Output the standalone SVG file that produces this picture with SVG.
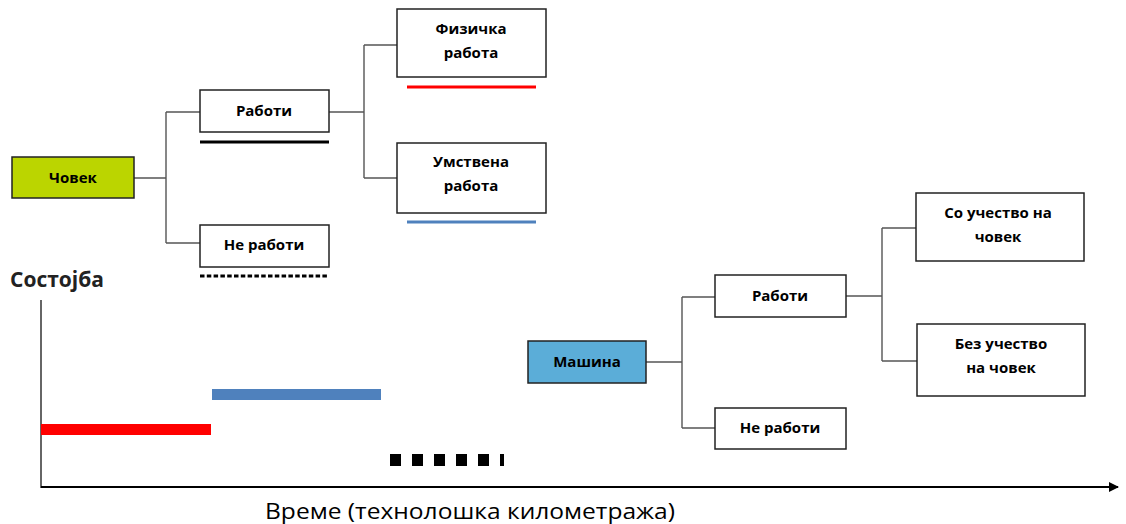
<svg xmlns="http://www.w3.org/2000/svg" width="1126" height="524" viewBox="0 0 1126 524">
  <defs>
    <marker id="arrow" viewBox="0 0 10 10" refX="9" refY="5" markerWidth="10" markerHeight="10" markerUnits="userSpaceOnUse" orient="auto">
      <path d="M0,0 L10,5 L0,10 Z" fill="#000"/>
    </marker>
  </defs>
  <style>
    .box { fill: #fff; stroke: #222; stroke-width: 1.5; }
    .lbl { font-family: "Open Sans", "Liberation Sans", sans-serif; font-weight: 700; font-size: 15px; fill: #000; text-anchor: middle; }
    .conn { fill: none; stroke: #555; stroke-width: 1.4; }
  </style>
  <rect width="1126" height="524" fill="#fff"/>

  <!-- tree connectors -->
  <g id="connectors">
    <path class="conn" d="M134,178 H166 M166,112 V243 M166,112 H200 M166,243 H200"/>
    <path class="conn" d="M329,112 H364 M364,45 V178 M364,45 H397 M364,178 H397"/>
    <path class="conn" d="M646,362 H682 M682,297 V428 M682,297 H715 M682,428 H715"/>
    <path class="conn" d="M846,296 H882 M882,228 V361 M882,228 H916 M882,361 H917"/>
  </g>

  <!-- human branch -->
  <g id="covek">
    <rect x="12" y="157" width="122" height="41" fill="#BBD500" stroke="#222" stroke-width="1.5"/>
    <text class="lbl" x="73" y="183">Човек</text>
  </g>
  <g id="covek-raboti">
    <rect class="box" x="200" y="90" width="129" height="42"/>
    <text class="lbl" x="264" y="116">Работи</text>
    <line x1="200" y1="142" x2="329" y2="142" stroke="#000" stroke-width="3"/>
  </g>
  <g id="covek-ne-raboti">
    <rect class="box" x="200" y="225" width="129" height="42"/>
    <text class="lbl" x="264" y="250">Не работи</text>
    <line x1="200" y1="276" x2="329" y2="276" stroke="#000" stroke-width="3" stroke-dasharray="4.5 2.3"/>
  </g>
  <g id="fizicka">
    <rect class="box" x="397" y="9" width="149" height="68"/>
    <text class="lbl" x="471" y="34">Физичка</text>
    <text class="lbl" x="471" y="58">работа</text>
    <line x1="407" y1="87" x2="536" y2="87" stroke="#FF0000" stroke-width="3"/>
  </g>
  <g id="umstvena">
    <rect class="box" x="397" y="143" width="149" height="70"/>
    <text class="lbl" x="471" y="167">Умствена</text>
    <text class="lbl" x="471" y="191">работа</text>
    <line x1="407" y1="222" x2="536" y2="222" stroke="#4F81BD" stroke-width="3"/>
  </g>

  <!-- machine branch -->
  <g id="masina">
    <rect x="528" y="341" width="118" height="42" fill="#5BADD8" stroke="#222" stroke-width="1.5"/>
    <text class="lbl" x="587" y="367">Машина</text>
  </g>
  <g id="masina-raboti">
    <rect class="box" x="715" y="275" width="131" height="42"/>
    <text class="lbl" x="780" y="301">Работи</text>
  </g>
  <g id="masina-ne-raboti">
    <rect class="box" x="715" y="408" width="131" height="41"/>
    <text class="lbl" x="780" y="433">Не работи</text>
  </g>
  <g id="so-ucestvo">
    <rect class="box" x="916" y="193" width="168" height="68"/>
    <text class="lbl" x="998" y="218">Со учество на</text>
    <text class="lbl" x="998" y="242">човек</text>
  </g>
  <g id="bez-ucestvo">
    <rect class="box" x="917" y="324" width="168" height="72"/>
    <text class="lbl" x="1001" y="349">Без учество</text>
    <text class="lbl" x="1001" y="373">на човек</text>
  </g>

  <!-- state / time chart -->
  <g id="chart">
    <text x="10" y="287" font-family="Open Sans, Liberation Sans, sans-serif" font-weight="700" font-size="21" fill="#222">Состојба</text>
    <line x1="41" y1="300" x2="41" y2="488" stroke="#333" stroke-width="1.5"/>
    <line x1="41" y1="487" x2="1118" y2="487" stroke="#000" stroke-width="2" marker-end="url(#arrow)"/>
    <rect x="41" y="424" width="170" height="11" fill="#FF0000"/>
    <rect x="212" y="389" width="169" height="11" fill="#4F81BD"/>
    <line x1="390" y1="460" x2="504" y2="460" stroke="#000" stroke-width="12" stroke-dasharray="11 11"/>
    <text x="470" y="519" font-family="Open Sans, Liberation Sans, sans-serif" font-size="22" fill="#000" text-anchor="middle" textLength="410" lengthAdjust="spacingAndGlyphs">Време (технолошка километража)</text>
  </g>
</svg>
